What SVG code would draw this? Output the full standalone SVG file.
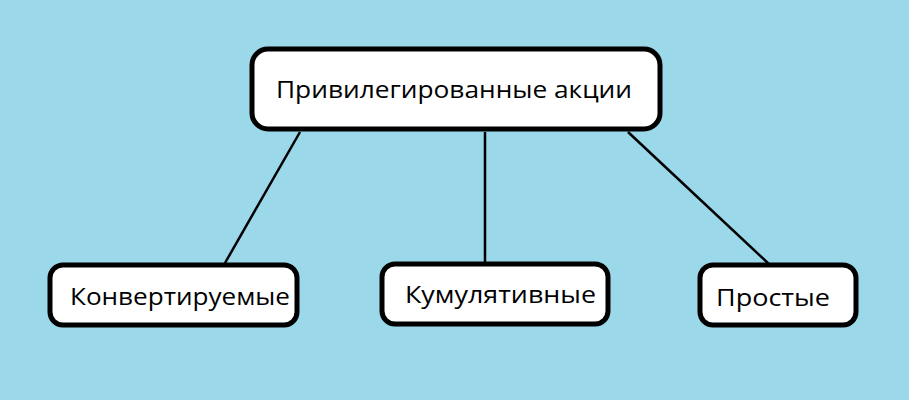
<svg xmlns="http://www.w3.org/2000/svg" width="909" height="400" viewBox="0 0 909 400">
<style>
.node rect{fill:#fff;stroke:#000;stroke-width:5}
.node text{font-family:"Open Sans","DejaVu Sans",sans-serif;font-size:24px;fill:#000}
.conn line{stroke:#000;stroke-width:2.5}
</style>
<rect width="909" height="400" fill="#9bd8ea"/>
<g class="conn">
<line x1="300" y1="132" x2="225" y2="263"/>
<line x1="485" y1="132" x2="485" y2="262"/>
<line x1="628" y1="132" x2="770" y2="265"/>
</g>
<g class="node" id="n0">
<rect x="252" y="49" width="408" height="80" rx="16"/>
<text x="276" y="98" textLength="356" lengthAdjust="spacingAndGlyphs">Привилегированные акции</text>
</g>
<g class="node" id="n1">
<rect x="50" y="265" width="247" height="60" rx="13"/>
<text x="70" y="305" textLength="220" lengthAdjust="spacingAndGlyphs">Конвертируемые</text>
</g>
<g class="node" id="n2">
<rect x="382" y="264" width="226" height="60" rx="13"/>
<text x="405" y="303" textLength="191" lengthAdjust="spacingAndGlyphs">Кумулятивные</text>
</g>
<g class="node" id="n3">
<rect x="700" y="265" width="156" height="60" rx="13"/>
<text x="716" y="306" textLength="114" lengthAdjust="spacingAndGlyphs">Простые</text>
</g>
</svg>
